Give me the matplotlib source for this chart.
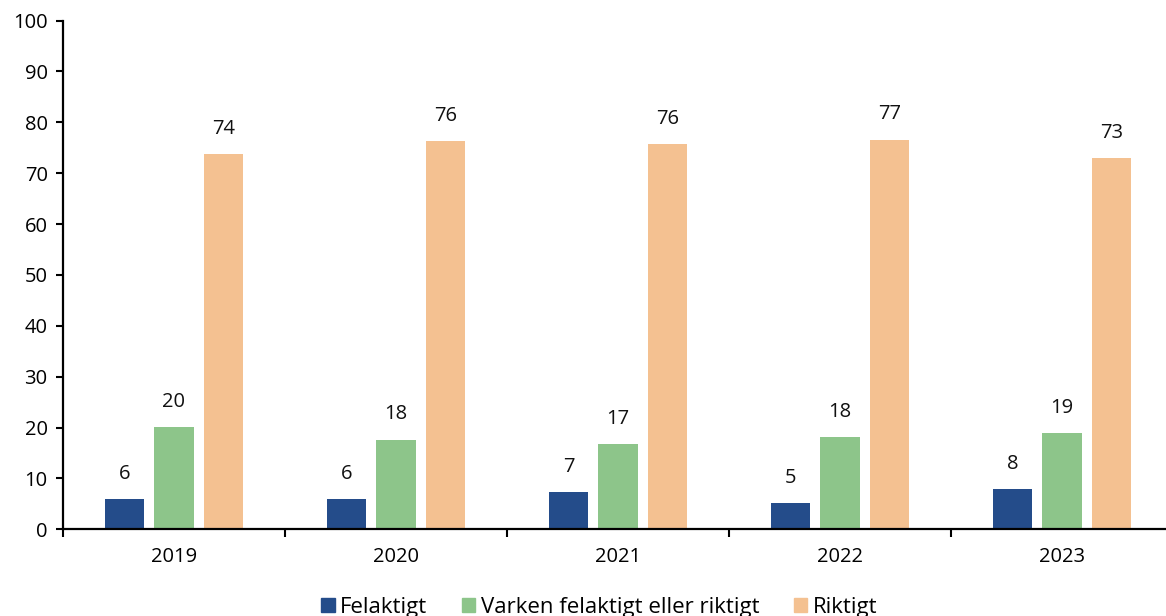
import matplotlib
matplotlib.use("Agg")
import matplotlib.pyplot as plt
from matplotlib.patches import Patch
import numpy as np

years = ["2019", "2020", "2021", "2022", "2023"]
series = ["Felaktigt", "Varken felaktigt eller riktigt", "Riktigt"]
felaktigt = [6.0, 5.9, 7.3, 5.1, 7.9]
varken = [20.1, 17.6, 16.8, 18.1, 18.9]
riktigt = [73.8, 76.3, 75.7, 76.6, 72.9]
colors = ["#244C8A", "#8DC58A", "#F4C191"]

plt.rcParams["font.family"] = ["Open Sans", "DejaVu Sans"]

fig = plt.figure(figsize=(11.66, 6.16), dpi=100)
ax = fig.add_axes([0.054, 0.1407, 1.006 - 0.054, 0.9667 - 0.1407])

x = np.arange(len(years))
width = 0.176
step = 0.222
for i, (vals, col) in enumerate(zip([felaktigt, varken, riktigt], colors)):
    pos = x + (i - 1) * step
    ax.bar(pos, vals, width=width, color=col, zorder=2)
    for p, v in zip(pos, vals):
        ax.annotate(f"{v:.0f}", (p, v), xytext=(0, 11), textcoords="offset points",
                    ha="center", va="bottom", fontsize=14.5, color="#111111")

ax.set_xlim(-0.5, 4.5)
ax.set_ylim(0, 100)
ax.set_yticks(range(0, 101, 10))
ax.set_xticks(x)
ax.set_xticklabels(years)
ax.set_xticks(np.arange(-0.5, 4.6, 1), minor=True)
ax.tick_params(axis="x", which="major", length=0, pad=13, labelsize=14.5)
ax.tick_params(axis="x", which="minor", length=6, width=1.5, direction="out")
ax.tick_params(axis="y", length=5, width=1.5, direction="out", pad=6, labelsize=14.5)

for s in ["top", "right"]:
    ax.spines[s].set_visible(False)
for s in ["left", "bottom"]:
    ax.spines[s].set_linewidth(1.6)
    ax.spines[s].set_color("black")

handles = [Patch(color=c, label=l) for c, l in zip(colors, series)]
fig.legend(handles=handles, loc="lower center", bbox_to_anchor=(599.5 / 1166, -0.036),
           ncol=3, frameon=False, fontsize=16, handlelength=0.6, handleheight=0.6,
           handletextpad=0.25, columnspacing=1.55)

fig.savefig("out.png", dpi=100)
